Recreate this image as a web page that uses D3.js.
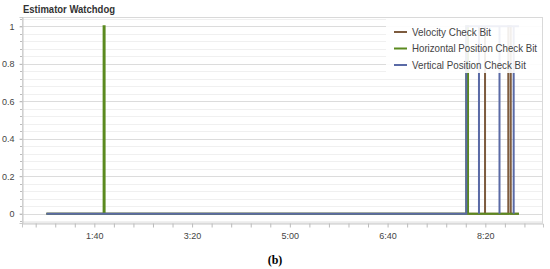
<!DOCTYPE html>
<html><head><meta charset="utf-8">
<script src="https://cdn.jsdelivr.net/npm/d3@7"></script>
<style>
html,body{margin:0;padding:0;background:#fff;}
svg{display:block;font-family:"Liberation Sans",Arial,sans-serif;}
</style></head>
<body>
<svg id="c" width="550" height="269"></svg>
<script>
// ---- data (time in seconds, value 0/1) ----
const seriesNames = ["Velocity Check Bit", "Horizontal Position Check Bit", "Vertical Position Check Bit"];
const seriesColors = ["#7d5b3e", "#5b8a1f", "#5a6aa6"];
const velocityTimes  = [51, 499.7, 499.7, 499.7, 523.5, 523.5, 526, 526, 534.4];
const velocityValues = [0, 0, 1, 0, 0, 1, 1, 0, 0];
const horizontalTimes  = [51, 109.5, 109.5, 110.5, 110.5, 480.5, 480.5, 482.3, 482.3, 534.4];
const horizontalValues = [0, 0, 1, 1, 0, 0, 1, 1, 0, 0];
const verticalTimes  = [51, 480.5, 480.5, 493.5, 493.5, 493.5, 514.5, 514.5, 514.5, 529, 529, 529, 534.4];
const verticalValues = [0, 0, 1, 1, 0, 1, 1, 0, 1, 1, 0, 1, 1];
const xTickLabelsAt = [100, 200, 300, 400, 500];
const yTickLabelsAt = [0, 0.2, 0.4, 0.6, 0.8, 1];

const svg = d3.select("#c");
const x = d3.scaleLinear().domain([26, 559]).range([22, 543]);
const y = d3.scaleLinear().domain([-0.05, 1.05]).range([223, 17]);

// minor gridlines
const minorY = d3.range(-0.04, 1.05, 0.04).filter(v => v > -0.05 && v < 1.05);
svg.append("g").selectAll("line").data(minorY).join("line")
  .attr("x1", 22).attr("x2", 543)
  .attr("y1", d => Math.round(y(d)) + 0.5).attr("y2", d => Math.round(y(d)) + 0.5)
  .attr("stroke", "#f0f0f0").attr("stroke-width", 1);
// major gridlines
svg.append("g").selectAll("line").data(yTickLabelsAt).join("line")
  .attr("x1", 22).attr("x2", 543)
  .attr("y1", d => Math.round(y(d)) + 0.5).attr("y2", d => Math.round(y(d)) + 0.5)
  .attr("stroke", "#dcdcdc").attr("stroke-width", 1);

// frame
svg.append("rect").attr("x", 22.5).attr("y", 17.5).attr("width", 520).attr("height", 205.5)
  .attr("fill", "none").attr("stroke", "#d9d9d9");

// y axis
const yAxis = d3.axisLeft(y).tickValues(yTickLabelsAt).tickSize(3).tickPadding(5)
  .tickFormat(d => d3.format("~g")(d));
const gy = svg.append("g").attr("transform", "translate(22.5,0)").call(yAxis);
gy.select(".domain").attr("stroke", "#c8c8c8");
gy.selectAll(".tick line").attr("stroke", "#bbb");
gy.selectAll("text").attr("fill", "#444").style("font-size", "9px");
// y minor ticks
svg.append("g").selectAll("line").data(minorY).join("line")
  .attr("x1", 20).attr("x2", 22)
  .attr("y1", d => Math.round(y(d)) + 0.5).attr("y2", d => Math.round(y(d)) + 0.5)
  .attr("stroke", "#bbb");

// x axis
const xAxis = d3.axisBottom(x).tickValues(d3.range(40, 541, 20)).tickSize(4).tickPadding(5)
  .tickFormat(d => xTickLabelsAt.includes(d) ? Math.floor(d / 60) + ":" + String(d % 60).padStart(2, "0") : "");
const gx = svg.append("g").attr("transform", "translate(0,223.5)").call(xAxis);
gx.select(".domain").attr("stroke", "#c8c8c8");
gx.selectAll(".tick line").attr("stroke", "#bbb");
gx.selectAll("text").attr("fill", "#444").style("font-size", "9px");

// series
const seriesData = [
  d3.zip(velocityTimes, velocityValues),
  d3.zip(horizontalTimes, horizontalValues),
  d3.zip(verticalTimes, verticalValues)
];
const line = d3.line().x(d => x(d[0])).y(d => y(d[1]));
svg.append("g").selectAll("path").data(seriesData).join("path")
  .attr("d", line).attr("fill", "none")
  .attr("stroke", (d, i) => seriesColors[i]).attr("stroke-width", 2)
  .attr("stroke-linejoin", "miter");

// legend
const legendWidths = [79, 125, 114];
const lg = svg.append("g");
lg.append("rect").attr("x", 386).attr("y", 19).attr("width", 156).attr("height", 54)
  .attr("fill", "#fff").attr("opacity", 0.9);
const items = lg.selectAll("g.it").data(seriesNames).join("g").attr("class", "it")
  .attr("transform", (d, i) => `translate(0,${32 + i * 16.5})`);
items.append("line").attr("x1", 394).attr("x2", 407).attr("y1", 0).attr("y2", 0)
  .attr("stroke", (d, i) => seriesColors[i]).attr("stroke-width", 2);
items.append("text").attr("x", 412).attr("y", 0).attr("dy", "0.35em")
  .attr("fill", "#444").style("font-size", "10.5px")
  .attr("textLength", (d, i) => legendWidths[i]).attr("lengthAdjust", "spacingAndGlyphs")
  .text(d => d);

// title
svg.append("text").attr("x", 23).attr("y", 13).attr("fill", "#333")
  .style("font-size", "11px").style("font-weight", "bold")
  .attr("textLength", 92).attr("lengthAdjust", "spacingAndGlyphs").text("Estimator Watchdog");

// caption
svg.append("text").attr("x", 275).attr("y", 264).attr("text-anchor", "middle")
  .style("font-family", "'Liberation Serif','DejaVu Serif',serif").style("font-size", "12px")
  .style("font-weight", "bold").attr("fill", "#000").text("(b)");
</script>
</body></html>
